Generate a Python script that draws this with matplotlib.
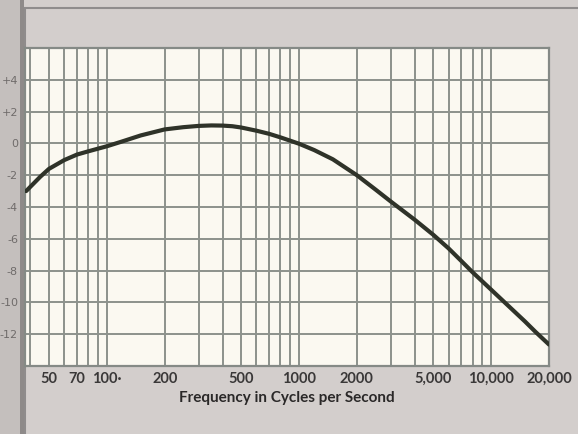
import numpy as np
import matplotlib
matplotlib.use('Agg')
from matplotlib import pyplot as plt
from matplotlib.ticker import FixedLocator, NullFormatter
from matplotlib.patches import Rectangle

# response curve (Hz, dB)
freq = [38, 45, 50, 60, 70, 80, 90, 100, 120, 150, 200, 250, 300, 350, 400, 450, 500, 600,
        700, 800, 900, 1000, 1200, 1500, 2000, 2500, 3000, 4000, 5000, 6000, 7000, 8000,
        10000, 12000, 15000, 17000, 20000]
level = [-3.0, -2.1, -1.6, -1.05, -0.7, -0.5, -0.33, -0.18, 0.12, 0.5, 0.88, 1.02, 1.1, 1.13, 1.12, 1.08, 1.0, 0.8,
         0.6, 0.38, 0.17, -0.02, -0.42, -1.0, -2.0, -2.9, -3.65, -4.8, -5.75, -6.6, -7.4, -8.1,
         -9.2, -10.1, -11.2, -11.85, -12.65]

x_labels = ['50', '70', '100·', '200', '500', '1000', '2000', '5,000', '10,000', '20,000']
x_label_pos = [50, 70, 100, 200, 500, 1000, 2000, 5000, 10000, 20000]
x_grid = [40, 60, 80, 90, 300, 400, 600, 700, 800, 900, 3000, 4000, 6000, 7000, 8000, 9000]
y_ticks = [-12, -10, -8, -6, -4, -2, 0, 2, 4]
y_labels = ['-12', '-10', '-8', '-6', '-4', '-2', '0', '+2', '+4']

fig = plt.figure(figsize=(5.78, 4.34), dpi=100)
fig.patch.set_facecolor('#d3cecc')

# book gutter on the left and printed frame (behind the axes)
fig.patches.append(Rectangle((0, 0), 22 / 578, 1, transform=fig.transFigure,
                             facecolor='#c4bfbd', edgecolor='none', zorder=-2))
fig.patches.append(Rectangle((20 / 578, 0), 4 / 578, 1, transform=fig.transFigure,
                             facecolor='#8e8a89', edgecolor='none', zorder=-2))
fig.patches.append(Rectangle((25 / 578, -0.1), 1, 1 - 8 / 434 + 0.1, transform=fig.transFigure,
                             facecolor='none', edgecolor='#8f8c8c', linewidth=1.5, zorder=-2))

ax = fig.add_axes([25 / 578, 1 - 366 / 434, 524 / 578, 318 / 434])
ax.set_facecolor('#fbf9f1')
ax.set_xscale('log')
ax.set_xlim(37.5, 20000)
ax.set_ylim(-14, 6)

ax.xaxis.set_major_locator(FixedLocator(x_label_pos))
ax.xaxis.set_minor_locator(FixedLocator(x_grid))
ax.xaxis.set_minor_formatter(NullFormatter())
ax.set_xticklabels(x_labels)
ax.set_yticks(y_ticks)
ax.set_yticklabels(y_labels)

ax.grid(True, which='both', color='#8d928c', linewidth=1.4)
ax.set_axisbelow(True)
for s in ax.spines.values():
    s.set_color('#858a86')
    s.set_linewidth(1.6)

ax.tick_params(which='both', length=0)
ax.tick_params(axis='x', pad=4, labelsize=10.5, labelcolor='#3a3838')
ax.tick_params(axis='y', pad=5, labelsize=8, labelcolor='#6f6b6a')
for t in ax.get_xticklabels():
    t.set_fontfamily('Lato')
    t.set_fontweight('bold')

ax.plot(freq, level, color='#2f3329', linewidth=3.0, solid_capstyle='round', zorder=3)

ax.set_xlabel('Frequency in Cycles per Second', fontsize=11, fontfamily='Lato',
              fontweight='bold', color='#2a2828', labelpad=0)
ax.xaxis.set_label_coords(0.5, -0.08)

fig.savefig('out.png', dpi=100, facecolor=fig.get_facecolor())
